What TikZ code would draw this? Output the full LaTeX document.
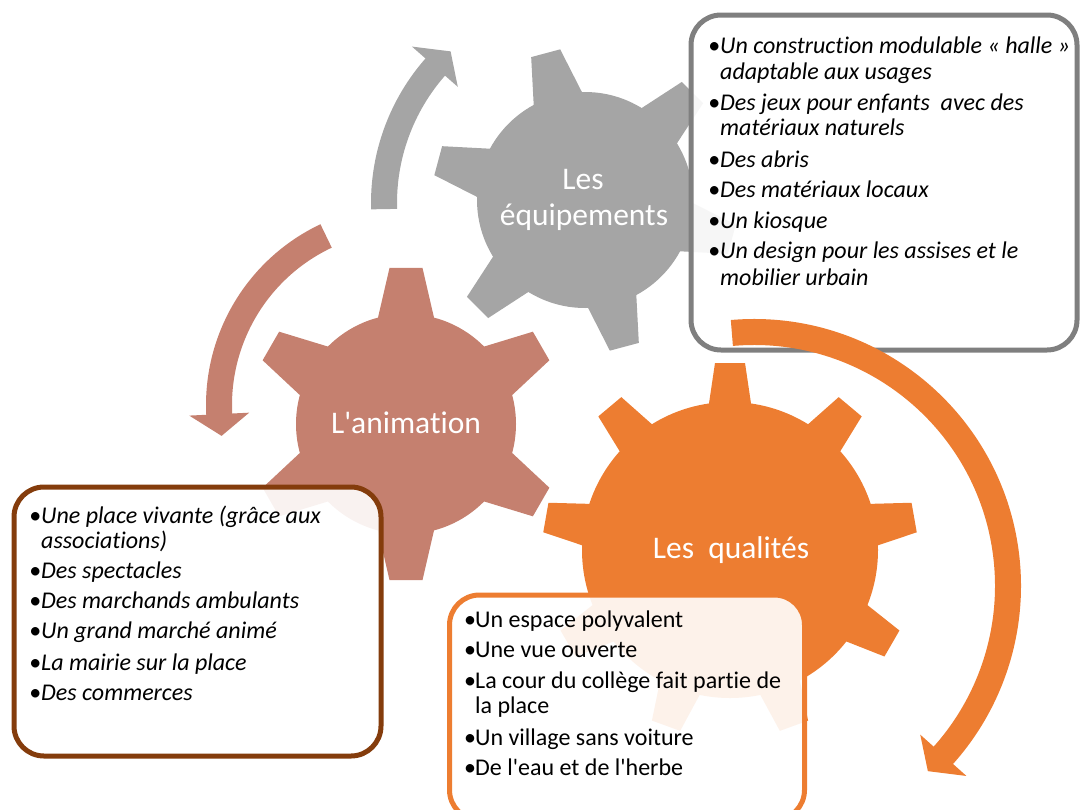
\documentclass[tikz,border=0pt]{standalone}
\usepackage{fontspec}
\setmainfont{Carlito}[Ligatures={TeXOff,CommonOff}]
\definecolor{cgray}{HTML}{A5A5A5}
\definecolor{cbrown}{HTML}{C5806F}
\definecolor{corange}{HTML}{ED7D31}
\definecolor{bgray}{HTML}{7F7F7F}
\definecolor{bbrown}{HTML}{843C0C}
\tikzset{
  gtxt/.style={text=white, inner sep=0pt, anchor=base, font=\fontsize{31.5}{36}\selectfont},
  ln/.style={anchor=base west, inner sep=0pt, text=black, font=\fontsize{24}{26}\selectfont},
  lni/.style={anchor=base west, inner sep=0pt, text=black, font=\fontsize{24}{26}\selectfont\itshape},
  boxst/.style={line width=5pt, fill=white, fill opacity=0.9, rounded corners=30pt},
  band/.style={line width=26pt},
}
\newcommand\bul[1]{\makebox[#1][l]{•}}
\begin{document}
\begin{tikzpicture}[x=1pt,y=-1pt]
\useasboundingbox (0,0) rectangle (1081,809);
\clip (0,0) rectangle (1081,809);

% orange gear
\fill[corange] (730,550) circle[radius=148];
\foreach \a in {30,70,...,350}
  \fill[corange, shift={(730,550)}] (\a-8.93:141.7) -- (\a-4.59:187.6) -- (\a+4.59:187.6) -- (\a+8.93:141.7) -- cycle;
% brown gear
\fill[cbrown] (406,424) circle[radius=110];
\foreach \a in {30,90,...,330}
  \fill[cbrown, shift={(406,424)}] (\a-15.9:106) -- (\a-6.04:156.9) -- (\a+6.04:156.9) -- (\a+15.9:106) -- cycle;
% gray gear
\fill[cgray] (585,200) circle[radius=108];
\foreach \a in {15,75,...,315}
  \fill[cgray, shift={(585,200)}] (\a-14.6:103.3) -- (\a-5.64:152.7) -- (\a+5.64:152.7) -- (\a+14.6:103.3) -- cycle;

% gear labels
\node[gtxt] (les1) at (583,189) {Les};
\node[gtxt] (equip) at (584,225) {équipements};
\node[gtxt] (anim) at (406,433) {L'animation};
\node[gtxt] (qual) at (731,558) {Les\ \ qualités};

% boxes
\draw[boxst, draw=bgray] (691,15) rectangle (1077,350);
\draw[boxst, draw=bbrown] (14,487) rectangle (381,756);
\draw[boxst, draw=corange] (449.5,595) rectangle (804.5,820);

% gray box text
\node[lni] (g1) at (708,53) {\bul{12pt}Un construction modulable «~halle~»};
\node[lni] (g1b) at (720,79) {adaptable aux usages};
\node[lni] (g2) at (708,110) {\bul{12pt}Des jeux pour enfants\ \ avec des};
\node[lni] (g2b) at (720,135) {matériaux naturels};
\node[lni] (g3) at (708,167) {\bul{12pt}Des abris};
\node[lni] (g4) at (708,197) {\bul{12pt}Des matériaux locaux};
\node[lni] (g5) at (708,228) {\bul{12pt}Un kiosque};
\node[lni] (g6) at (708,258) {\bul{12pt}Un design pour les assises et le};
\node[lni] (g6b) at (720,285) {mobilier urbain};

% brown box text
\node[lni] (b1) at (29,523) {\bul{12pt}Une place vivante (grâce aux};
\node[lni] (b1b) at (41,548) {associations)};
\node[lni] (b2) at (29,578) {\bul{12pt}Des spectacles};
\node[lni] (b3) at (29,608) {\bul{12pt}Des marchands ambulants};
\node[lni] (b4) at (29,638) {\bul{12pt}Un grand marché animé};
\node[lni] (b5) at (29,670) {\bul{12pt}La mairie sur la place};
\node[lni] (b6) at (29,700) {\bul{12pt}Des commerces};

% orange box text
\node[ln] (o1) at (464,627) {\bul{11pt}Un espace polyvalent};
\node[ln] (o2) at (464,657) {\bul{11pt}Une vue ouverte};
\node[ln] (o3) at (464,688) {\bul{11pt}La cour du collège fait partie de};
\node[ln] (o3b) at (475,713) {la place};
\node[ln] (o4) at (464,745) {\bul{11pt}Un village sans voiture};
\node[ln] (o5) at (464,775) {\bul{11pt}De l'eau et de l'herbe};

% circular arrows
\draw[cgray, band] (590,203) ++(178.3:206) arc[start angle=178.3, end angle=221.6, radius=206];
\fill[cgray, shift={(590,203)}] (221.3:176) -- (221.3:237) -- (227.4:206) -- cycle;

\draw[cbrown, band] (406,405) ++(244.7:187) arc[start angle=244.7, end angle=176.9, radius=187];
\fill[cbrown, shift={(406,405)}] (177.2:157) -- (177.2:217) -- (170.5:187) -- cycle;

\draw[corange, band] (754,586) ++(-95:254) arc[start angle=-95, end angle=42.1, radius=254];
\fill[corange, shift={(754,586)}] (41.8:223) -- (41.8:285) -- (46.8:254) -- cycle;
\end{tikzpicture}
\end{document}
